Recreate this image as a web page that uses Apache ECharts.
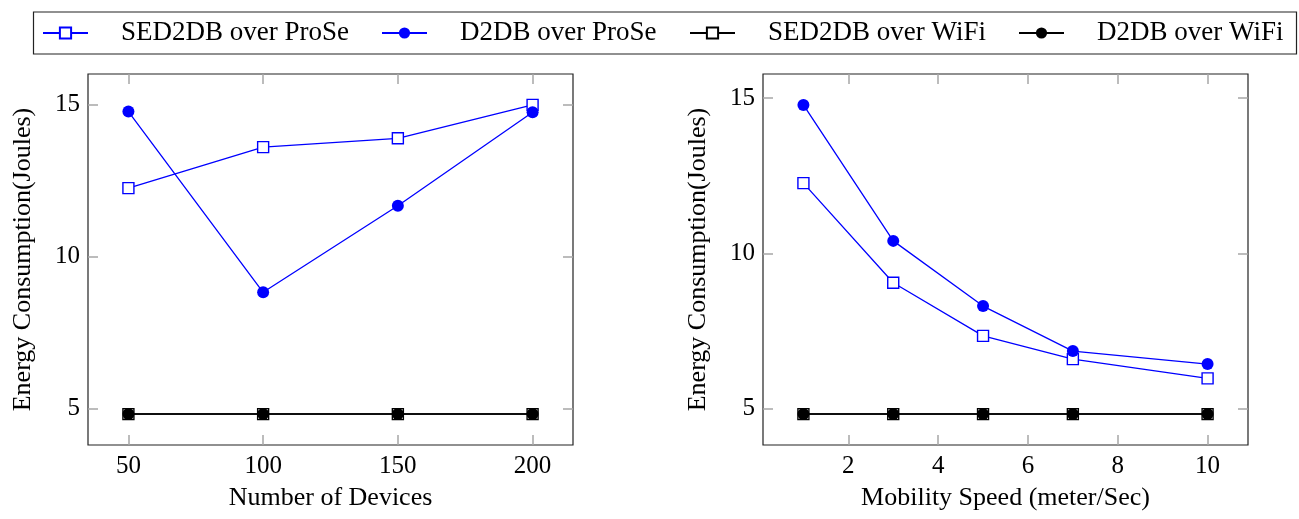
<!DOCTYPE html>
<html>
<head>
<meta charset="utf-8">
<script src="https://cdn.jsdelivr.net/npm/echarts@6/dist/echarts.min.js"></script>
<style>
html,body{margin:0;padding:0;background:#fff;}
#chart{width:1299px;height:519px;}
</style>
</head>
<body>
<div id="chart"></div>
<script>
// ---- data ----
const seriesNames = ['SED2DB over ProSe', 'D2DB over ProSe', 'SED2DB over WiFi', 'D2DB over WiFi'];

const devices = [50, 100, 150, 200];
const sedProseDev = [12.26, 13.61, 13.90, 15.00];
const d2dbProseDev = [14.78, 8.83, 11.68, 14.76];
const sedWifiDev = [4.82, 4.82, 4.82, 4.82];
const d2dbWifiDev = [4.82, 4.82, 4.82, 4.82];

const speeds = [1, 3, 5, 7, 10];
const sedProseSpd = [12.26, 9.05, 7.34, 6.59, 5.97];
const d2dbProseSpd = [14.78, 10.40, 8.30, 6.85, 6.43];
const sedWifiSpd = [4.82, 4.82, 4.82, 4.82, 4.82];
const d2dbWifiSpd = [4.82, 4.82, 4.82, 4.82, 4.82];

const deviceTicks = [50, 100, 150, 200];
const speedTicks = [2, 4, 6, 8, 10];
const energyTicks = [5, 10, 15];

const xTitleLeft = 'Number of Devices';
const xTitleRight = 'Mobility Speed (meter/Sec)';
const yTitle = 'Energy Consumption(Joules)';

// ---- styling ----
const FONT = '"Liberation Serif", "DejaVu Serif", serif';
const BLUE = '#0000ff';
const BLACK = '#000000';
const TICK = '#a6a6a6';

function zip(xs, ys) { return xs.map((x, i) => [x, ys[i]]); }

function xAx(grid, min, max, ticks, name, pos) {
  const main = pos === 'bottom';
  return {
    type: 'value', gridIndex: grid, position: pos, min: min, max: max,
    name: main ? name : '', nameLocation: 'middle', nameGap: 40,
    nameTextStyle: { fontFamily: FONT, fontSize: 26, color: BLACK },
    axisLine: { show: false },
    axisTick: { show: true, inside: true, length: 10, customValues: ticks, lineStyle: { color: TICK, width: 1.5 } },
    axisLabel: { show: main, customValues: ticks, margin: 9, fontFamily: FONT, fontSize: 25, color: BLACK },
    splitLine: { show: false }
  };
}
function yAx(grid, min, max, ticks, pos) {
  const main = pos === 'left';
  return {
    type: 'value', gridIndex: grid, position: pos, min: min, max: max,
    name: main ? yTitle : '', nameLocation: 'middle', nameGap: 52, nameRotate: 90,
    nameTextStyle: { fontFamily: FONT, fontSize: 26, color: BLACK },
    axisLine: { show: false },
    axisTick: { show: true, inside: true, length: 10, customValues: ticks, lineStyle: { color: TICK, width: 1.5 } },
    axisLabel: { show: main, customValues: ticks, margin: 8, fontFamily: FONT, fontSize: 25, color: BLACK },
    splitLine: { show: false }
  };
}

function styleFor(idx) {
  if (idx === 0) return { symbol: 'rect', symbolSize: 11, itemStyle: { color: '#ffffff', borderColor: BLUE, borderWidth: 1.4 }, lineStyle: { color: BLUE, width: 1.3 } };
  if (idx === 1) return { symbol: 'circle', symbolSize: 12, itemStyle: { color: BLUE, borderWidth: 0 }, lineStyle: { color: BLUE, width: 1.3 } };
  if (idx === 2) return { symbol: 'rect', symbolSize: 11, itemStyle: { color: '#ffffff', borderColor: BLACK, borderWidth: 1.4 }, lineStyle: { color: BLACK, width: 1.5 } };
  return { symbol: 'circle', symbolSize: 12, itemStyle: { color: BLACK, borderWidth: 0 }, lineStyle: { color: BLACK, width: 1.5 } };
}

function mkSeries(idx, grid, xs, ys) {
  return Object.assign({
    type: 'line', name: seriesNames[idx], xAxisIndex: grid * 2, yAxisIndex: grid * 2,
    data: zip(xs, ys), showSymbol: true, showAllSymbol: true, animation: false, z: 2 + idx
  }, styleFor(idx));
}

const legendLefts = [42, 381, 689, 1018];
const legends = seriesNames.map((n, i) => ({
  data: [n], left: legendLefts[i], top: 18, padding: 0,
  itemWidth: 45, itemHeight: 14, selectedMode: false,
  textStyle: { fontFamily: FONT, fontSize: 27, color: BLACK, padding: [0, 0, 0, 28], lineHeight: 30 }
}));

const option = {
  backgroundColor: '#ffffff',
  animation: false,
  legend: legends,
  graphic: [{
    type: 'rect', silent: true,
    shape: { x: 33.5, y: 12, width: 1263, height: 42 },
    style: { fill: 'none', stroke: '#222', lineWidth: 1.2 }
  }],
  grid: [
    { left: 88, top: 74, width: 485, height: 371, show: true, borderColor: '#222', borderWidth: 1.2, containLabel: false },
    { left: 763, top: 74, width: 485, height: 371, show: true, borderColor: '#222', borderWidth: 1.2, containLabel: false }
  ],
  xAxis: [
    xAx(0, 35, 215, deviceTicks, xTitleLeft, 'bottom'),
    xAx(0, 35, 215, deviceTicks, xTitleLeft, 'top'),
    xAx(1, 0.1, 10.9, speedTicks, xTitleRight, 'bottom'),
    xAx(1, 0.1, 10.9, speedTicks, xTitleRight, 'top')
  ],
  yAxis: [
    yAx(0, 3.802, 16.018, energyTicks, 'left'),
    yAx(0, 3.802, 16.018, energyTicks, 'right'),
    yAx(1, 3.824, 15.776, energyTicks, 'left'),
    yAx(1, 3.824, 15.776, energyTicks, 'right')
  ],
  series: [
    mkSeries(0, 0, devices, sedProseDev),
    mkSeries(1, 0, devices, d2dbProseDev),
    mkSeries(2, 0, devices, sedWifiDev),
    mkSeries(3, 0, devices, d2dbWifiDev),
    mkSeries(0, 1, speeds, sedProseSpd),
    mkSeries(1, 1, speeds, d2dbProseSpd),
    mkSeries(2, 1, speeds, sedWifiSpd),
    mkSeries(3, 1, speeds, d2dbWifiSpd)
  ]
};

const chart = echarts.init(document.getElementById('chart'), null, { renderer: 'canvas' });
chart.setOption(option);
</script>
</body>
</html>
